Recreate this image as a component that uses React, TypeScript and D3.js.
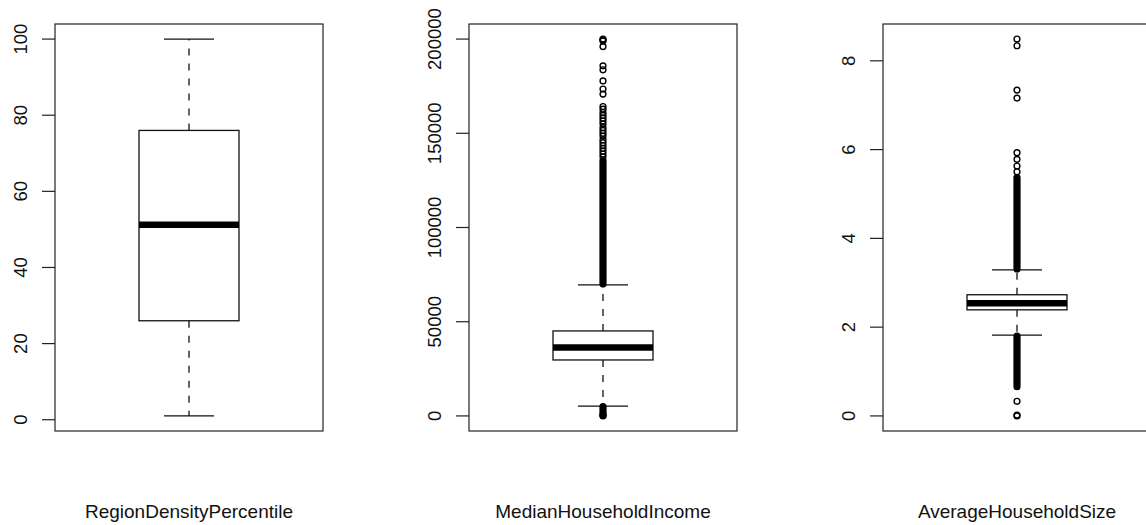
import React from "react";
import * as d3 from "d3";

const WIDTH = 1146;
const HEIGHT = 525;
const PANEL_LEFT = 55;
const PANEL_STEP = 414;
const PANEL_W = 268;
const PLOT_TOP = 24;
const PLOT_BOTTOM = 431;
const BOX_HALF = 50;
const CAP_HALF = 25;
const PT_R = 2.9;
const FONT = "'Liberation Sans', Arial, Helvetica, sans-serif";

// variable names under each panel
const variables = ["RegionDensityPercentile", "MedianHouseholdIncome", "AverageHouseholdSize"];

// five number summaries: lower whisker, q1, median, q3, upper whisker
const densityStats = [1, 26, 51.2, 76, 100];
const incomeStats = [5200, 29700, 36300, 45100, 69600];
const sizeStats = [1.82, 2.39, 2.54, 2.73, 3.29];

// single outliers that can still be told apart
const densityOutliers: number[] = [];
const incomeOutliers = [
  200001, 199600, 199000, 196000, 185800, 183700, 177800, 173500, 170800, 164200,
  162800, 161000, 159500, 158000, 156500, 155000, 153000, 151500, 150000, 148500,
  146500, 145000, 143500, 142000, 140500, 139000, 137500, 0, 300,
];
const sizeOutliers = [8.49, 8.34, 7.34, 7.16, 5.93, 5.78, 5.63, 5.5, 0.33, 0.02, 0];

// runs of outliers so dense that the circles merge into one bar [low, high]
const densityRuns: number[][] = [];
const incomeRuns = [[70000, 135500], [600, 4900]];
const sizeRuns = [[3.31, 5.37], [0.66, 1.8]];

// axis tick values
const densityTicks = [0, 20, 40, 60, 80, 100];
const incomeTicks = [0, 50000, 100000, 150000, 200000];
const sizeTicks = [0, 2, 4, 6, 8];

const panels = [
  { stats: densityStats, outliers: densityOutliers, runs: densityRuns, ticks: densityTicks },
  { stats: incomeStats, outliers: incomeOutliers, runs: incomeRuns, ticks: incomeTicks },
  { stats: sizeStats, outliers: sizeOutliers, runs: sizeRuns, ticks: sizeTicks },
];

function BoxPanel({ index }: { index: number }) {
  const p = panels[index];
  const left = PANEL_LEFT + index * PANEL_STEP;
  const cx = left + PANEL_W / 2;

  // R style range: data extent widened by 4% at each end
  const all = [...p.stats, ...p.outliers, ...p.runs.flat()];
  const [lo, hi] = d3.extent(all) as [number, number];
  const pad = (hi - lo) * 0.04;
  const y = d3.scaleLinear().domain([lo - pad, hi + pad]).range([PLOT_BOTTOM, PLOT_TOP]);

  const [wLo, q1, med, q3, wHi] = p.stats;

  return (
    <g>
      {p.ticks.map((t) => (
        <g key={t}>
          <line x1={left - 13} x2={left} y1={y(t)} y2={y(t)} stroke="#222" strokeWidth={1.2} />
          <text
            transform={`translate(${left - 28},${y(t)}) rotate(-90)`}
            textAnchor="middle"
            fontFamily={FONT}
            fontSize={18.5}
            fill="#111"
          >
            {t}
          </text>
        </g>
      ))}

      {/* whiskers */}
      <line x1={cx} x2={cx} y1={y(q3)} y2={y(wHi)} stroke="#111" strokeWidth={1.3} strokeDasharray="7,8" />
      <line x1={cx} x2={cx} y1={y(q1)} y2={y(wLo)} stroke="#111" strokeWidth={1.3} strokeDasharray="7,8" />
      <line x1={cx - CAP_HALF} x2={cx + CAP_HALF} y1={y(wHi)} y2={y(wHi)} stroke="#111" strokeWidth={1.3} />
      <line x1={cx - CAP_HALF} x2={cx + CAP_HALF} y1={y(wLo)} y2={y(wLo)} stroke="#111" strokeWidth={1.3} />

      {/* box and median */}
      <rect
        x={cx - BOX_HALF}
        y={y(q3)}
        width={BOX_HALF * 2}
        height={y(q1) - y(q3)}
        fill="white"
        stroke="#111"
        strokeWidth={1.3}
      />
      <line x1={cx - BOX_HALF} x2={cx + BOX_HALF} y1={y(med)} y2={y(med)} stroke="#000" strokeWidth={6.5} />

      {/* outliers */}
      {p.runs.map(([a, b], i) => (
        <rect
          key={"run" + i}
          x={cx - PT_R - 0.7}
          y={y(b) - PT_R - 0.7}
          width={2 * PT_R + 1.4}
          height={y(a) - y(b) + 2 * PT_R + 1.4}
          rx={PT_R + 0.7}
          fill="#000"
        />
      ))}
      {p.outliers.map((v, i) => (
        <circle key={"o" + i} cx={cx} cy={y(v)} r={PT_R} fill="none" stroke="#000" strokeWidth={1.4} />
      ))}

      <rect
        x={left}
        y={PLOT_TOP}
        width={PANEL_W}
        height={PLOT_BOTTOM - PLOT_TOP}
        fill="none"
        stroke="#222"
        strokeWidth={1.2}
      />
      <text x={cx} y={518} textAnchor="middle" fontFamily={FONT} fontSize={19} fill="#111">
        {variables[index]}
      </text>
    </g>
  );
}

export default function App() {
  return (
    <svg
      width={WIDTH}
      height={HEIGHT}
      style={{ position: "absolute", left: 0, top: 0, background: "white" }}
    >
      {panels.map((_, i) => (
        <BoxPanel key={i} index={i} />
      ))}
    </svg>
  );
}
